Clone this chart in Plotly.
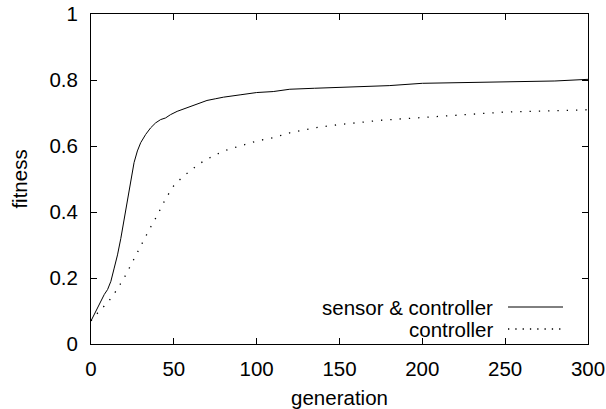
import plotly.graph_objects as go

# sensor & controller run
gen_sc = [0, 2, 4, 6, 8, 10, 12, 14, 16, 18, 20, 22, 24, 26, 28, 30, 33, 36, 39, 42,
          45, 48, 52, 56, 60, 65, 70, 75, 80, 90, 100, 110, 120, 135, 150, 165, 180,
          200, 220, 240, 260, 280, 300]
fit_sc = [0.07, 0.09, 0.11, 0.13, 0.15, 0.165, 0.19, 0.23, 0.27, 0.32, 0.38, 0.44,
          0.50, 0.55, 0.585, 0.61, 0.635, 0.655, 0.67, 0.68, 0.685, 0.695, 0.705,
          0.712, 0.72, 0.73, 0.738, 0.743, 0.748, 0.755, 0.762, 0.765, 0.772, 0.775,
          0.778, 0.781, 0.783, 0.79, 0.792, 0.793, 0.795, 0.797, 0.802]

# controller only run
gen_c = [0, 5, 10, 15, 20, 25, 30, 35, 40, 45, 50, 55, 60, 65, 70, 80, 90, 100, 110,
         120, 135, 150, 175, 200, 225, 250, 275, 300]
fit_c = [0.07, 0.10, 0.125, 0.16, 0.20, 0.25, 0.295, 0.345, 0.39, 0.44, 0.48, 0.505,
         0.525, 0.545, 0.56, 0.585, 0.60, 0.615, 0.625, 0.64, 0.655, 0.665, 0.678,
         0.687, 0.695, 0.703, 0.706, 0.71]

legend_labels = ["sensor & controller", "controller"]

FONT = "Liberation Sans, Arial, Helvetica, sans-serif"
FS = 20.5

fig = go.Figure()
fig.add_trace(go.Scatter(x=gen_sc, y=fit_sc, mode="lines", name=legend_labels[0],
                         line=dict(color="black", width=1)))
fig.add_trace(go.Scatter(x=gen_c, y=fit_c, mode="lines", name=legend_labels[1],
                         line=dict(color="black", width=1.3, dash="1.3px,8px")))

# gnuplot-style key: text on the left, sample on the right
key_rows = [(307, "solid"), (329, "1.3px,6px")]
for (ypix, dash), label in zip(key_rows, legend_labels):
    yp = (409 - 65 - ypix) / (409 - 65 - 14)
    fig.add_annotation(x=(495 - 91) / 497, y=yp, xref="paper", yref="paper",
                       text=label, showarrow=False, xanchor="right", yanchor="middle",
                       font=dict(family=FONT, size=FS, color="black"))
    fig.add_shape(type="line", xref="paper", yref="paper",
                  x0=(508 - 91) / 497, x1=(563 - 91) / 497, y0=yp, y1=yp,
                  line=dict(color="black", width=1 if dash == "solid" else 1.3, dash=dash))

axis_common = dict(
    showgrid=False, zeroline=False, showline=True, linecolor="black", linewidth=1,
    mirror="allticks", ticks="inside", ticklen=6, tickcolor="black", tickwidth=1,
    tickfont=dict(family=FONT, size=FS, color="black"), automargin=False,
)

fig.update_layout(
    width=606, height=409,
    margin=dict(l=91, r=18, t=14, b=65),
    paper_bgcolor="white", plot_bgcolor="white",
    showlegend=False,
    font=dict(family=FONT, size=FS, color="black"),
    xaxis=dict(range=[0, 300], tickvals=[0, 50, 100, 150, 200, 250, 300],
               ticklabelstandoff=6,
               title=dict(text="generation", standoff=13,
                          font=dict(family=FONT, size=FS)), **axis_common),
    yaxis=dict(range=[0, 1], tickvals=[0, 0.2, 0.4, 0.6, 0.8, 1],
               ticklabelstandoff=8,
               title=dict(text="fitness", standoff=16,
                          font=dict(family=FONT, size=FS)), **axis_common),
)

# drop the browser's default body margin so the figure sits at the page corner
fig.write_html("out.html", config={"displayModeBar": False},
               post_script="document.body.style.margin='0';")
